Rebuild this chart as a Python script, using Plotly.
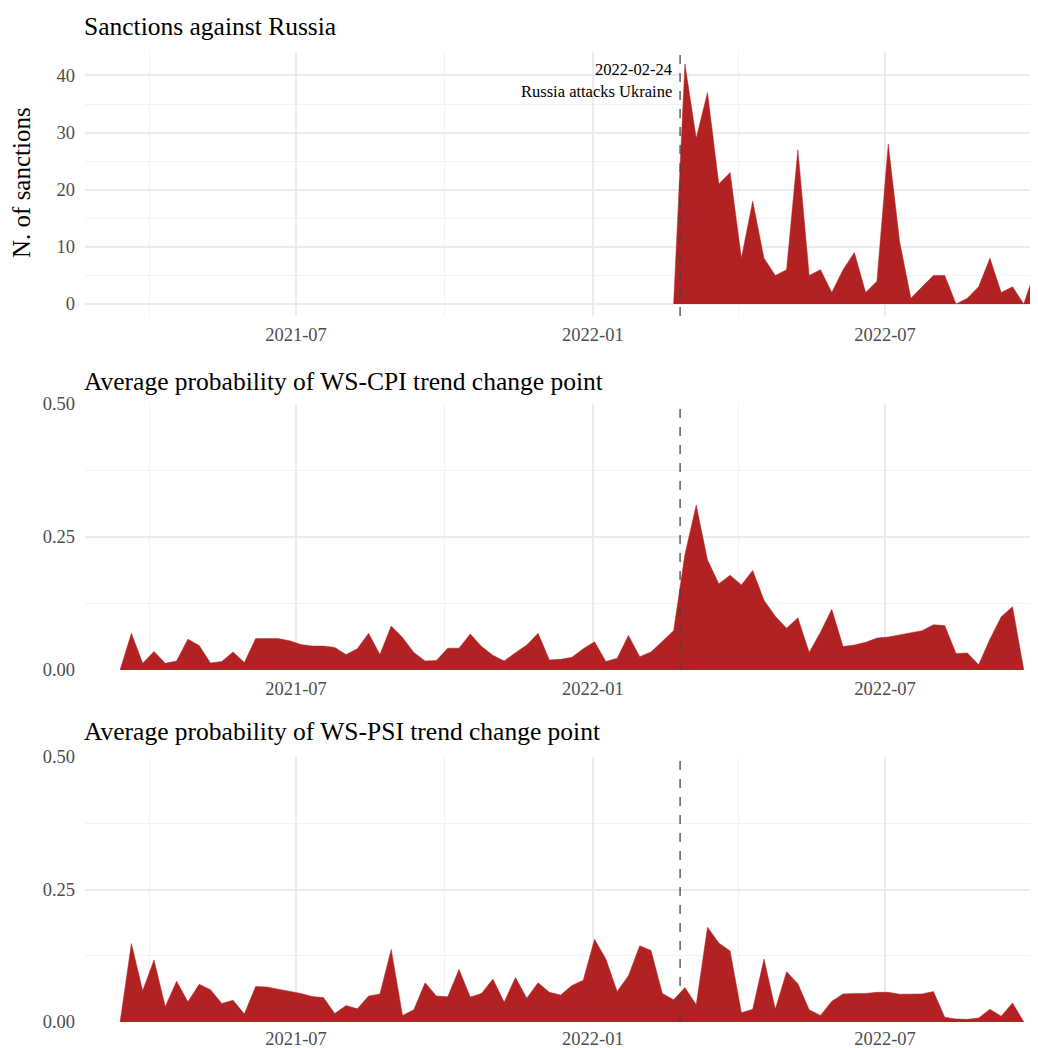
import pandas as pd
import plotly.graph_objects as go

# ---- data ----
start_week = "2021-03-14"
cpi_values = [0.0, 0.069, 0.0125, 0.035, 0.0125, 0.017, 0.058, 0.046, 0.013, 0.016,
              0.034, 0.014, 0.059, 0.059, 0.059, 0.055, 0.048, 0.045, 0.045, 0.0425,
              0.029, 0.040, 0.069, 0.029, 0.0825, 0.061, 0.033, 0.017, 0.018, 0.041,
              0.041, 0.0675, 0.044, 0.0275, 0.017, 0.0325, 0.047, 0.069, 0.019, 0.020,
              0.024, 0.040, 0.053, 0.016, 0.022, 0.065, 0.025, 0.034, 0.055, 0.074,
              0.217, 0.310, 0.207, 0.162, 0.178, 0.160, 0.187, 0.131, 0.101, 0.0785,
              0.098, 0.033, 0.071, 0.114, 0.044, 0.047, 0.052, 0.060, 0.062, 0.066,
              0.070, 0.074, 0.085, 0.0835, 0.031, 0.032, 0.010, 0.058, 0.100, 0.119,
              0.0]
psi_values = [0.0, 0.148, 0.059, 0.117, 0.029, 0.077, 0.038, 0.071, 0.061, 0.035,
              0.041, 0.015, 0.067, 0.066, 0.062, 0.0575, 0.054, 0.048, 0.046, 0.016,
              0.031, 0.025, 0.049, 0.053, 0.137, 0.0125, 0.023, 0.074, 0.049, 0.0475,
              0.099, 0.047, 0.054, 0.081, 0.0375, 0.084, 0.045, 0.074, 0.056, 0.051,
              0.069, 0.079, 0.156, 0.119, 0.0575, 0.0875, 0.144, 0.135, 0.054, 0.042,
              0.065, 0.0325, 0.179, 0.149, 0.134, 0.0175, 0.024, 0.119, 0.024, 0.095,
              0.072, 0.023, 0.0125, 0.039, 0.053, 0.054, 0.054, 0.056, 0.056, 0.0525,
              0.0525, 0.053, 0.0575, 0.009, 0.0056, 0.005, 0.0075, 0.024, 0.011, 0.036,
              0.0]
sanctions_start = "2022-02-20"
sanctions_values = [0, 42, 29, 37, 21, 23, 8, 18, 8, 5, 6, 27, 5, 6, 2, 6, 9, 2, 4, 28,
                    11, 1, 3, 5, 5, 0, 1, 3, 8, 2, 3, 0, 6, 2]
event_date = "2022-02-24"
event_label = "Russia attacks Ukraine"
titles = ["Sanctions against Russia",
          "Average probability of WS-CPI trend change point",
          "Average probability of WS-PSI trend change point"]
y1_title = "N. of sanctions"

cpi_dates = pd.date_range(start_week, periods=len(cpi_values), freq="7D")
psi_dates = pd.date_range(start_week, periods=len(psi_values), freq="7D")
sanc_dates = pd.date_range(sanctions_start, periods=len(sanctions_values), freq="7D")

FONT = "Palatino Linotype, Book Antiqua, Palatino, Liberation Serif, serif"
RED = "#B22222"
GRID = "#ebebeb"

fig = go.Figure()
for i, (d, v) in enumerate([(sanc_dates, sanctions_values),
                            (cpi_dates, cpi_values),
                            (psi_dates, psi_values)]):
    fig.add_trace(go.Scatter(
        x=d, y=v, mode="lines", fill="tozeroy", fillcolor=RED,
        line=dict(color=RED, width=0.5), showlegend=False,
        xaxis="x" if i == 0 else f"x{i+1}", yaxis="y" if i == 0 else f"y{i+1}"))

# page body has an 8px margin, so the figure is drawn 8px smaller and shifted
OFF = 8
FIG_W = 1038 - OFF
FIG_H = 1048 - OFF
top = 52            # plot area top in page pixels
ph = 970            # plot area height
def dom(a, b):
    return [1 - (b - top) / ph, 1 - (a - top) / ph]

doms = [dom(52, 316), dom(404, 670), dom(757, 1022)]
xrange_ = ["2021-02-20 06:00", "2022-10-03 19:00"]

TICKFONT = dict(family=FONT, size=18.5, color="#4d4d4d")
xcommon = dict(type="date", range=xrange_, dtick="M6", tick0="2021-01-01",
               tickformat="%Y-%m", showgrid=True, gridcolor=GRID, gridwidth=1.5,
               minor=dict(dtick="M3", tick0="2021-01-01", showgrid=True,
                          gridcolor="#f2f2f2", gridwidth=0.8),
               zeroline=False, showline=False, ticks="", automargin=False,
               tickfont=TICKFONT, ticklabelstandoff=5)
layout = dict(width=FIG_W, height=FIG_H, plot_bgcolor="white",
              paper_bgcolor="white",
              margin=dict(l=85 - OFF, r=0, t=top - OFF,
                          b=FIG_H - (1022 - OFF), autoexpand=False),
              font=dict(family=FONT, color="black"))
yranges = [[-2.1, 44.1], [0, 0.5], [0, 0.5]]
for i in range(3):
    xs = "xaxis" if i == 0 else f"xaxis{i+1}"
    ys = "yaxis" if i == 0 else f"yaxis{i+1}"
    ya = "y" if i == 0 else f"y{i+1}"
    xa = "x" if i == 0 else f"x{i+1}"
    xcfg = dict(xcommon, anchor=ya, domain=[0, 1])
    if i == 2:
        xcfg["ticklabelstandoff"] = 3
    layout[xs] = xcfg
    ycfg = dict(anchor=xa, domain=doms[i], range=yranges[i], showgrid=True,
                gridcolor=GRID, gridwidth=1.5, zeroline=False, showline=False,
                ticks="", tickfont=TICKFONT, automargin=False,
                ticklabelstandoff=9)
    if i == 0:
        ycfg.update(dtick=10, tick0=0,
                    minor=dict(dtick=5, showgrid=True, gridcolor="#f2f2f2", gridwidth=0.8))
    else:
        ycfg.update(dtick=0.25, tick0=0, tickformat=".2f",
                    minor=dict(dtick=0.125, showgrid=True, gridcolor="#f2f2f2", gridwidth=0.8))
    layout[ys] = ycfg

fig.update_layout(**layout)

shapes = []
for i in range(3):
    xa = "x" if i == 0 else f"x{i+1}"
    ya = "y" if i == 0 else f"y{i+1}"
    shapes.append(dict(type="line", xref=xa, yref=f"{ya} domain",
                       x0=event_date, x1=event_date, y0=0, y1=1,
                       line=dict(color="#444444", width=1.3, dash="dash")))
fig.update_layout(shapes=shapes)

ann = []
title_y = [26, 381, 731]
for t, yp in zip(titles, title_y):
    ann.append(dict(text=t, xref="paper", yref="paper", x=0, y=1 - (yp - top) / ph,
                    xanchor="left", yanchor="middle", showarrow=False, xshift=-3,
                    font=dict(family=FONT, size=25.5, color="black")))
ann.append(dict(text=y1_title, xref="paper", yref="paper", x=(22 - 85) / 953,
                y=1 - (183 - top) / ph, textangle=-90, xanchor="center",
                yanchor="middle", showarrow=False,
                font=dict(family=FONT, size=25, color="black")))
ann.append(dict(text=event_date, xref="x", yref="y", x=event_date, y=41.0,
                xanchor="right", yanchor="middle", xshift=-6, showarrow=False,
                font=dict(family=FONT, size=16.5, color="black")))
ann.append(dict(text=event_label, xref="x", yref="y", x=event_date, y=37.2,
                xanchor="right", yanchor="middle", xshift=-6, showarrow=False,
                font=dict(family=FONT, size=16.5, color="black")))
fig.update_layout(annotations=ann)

fig.write_html("out.html")
